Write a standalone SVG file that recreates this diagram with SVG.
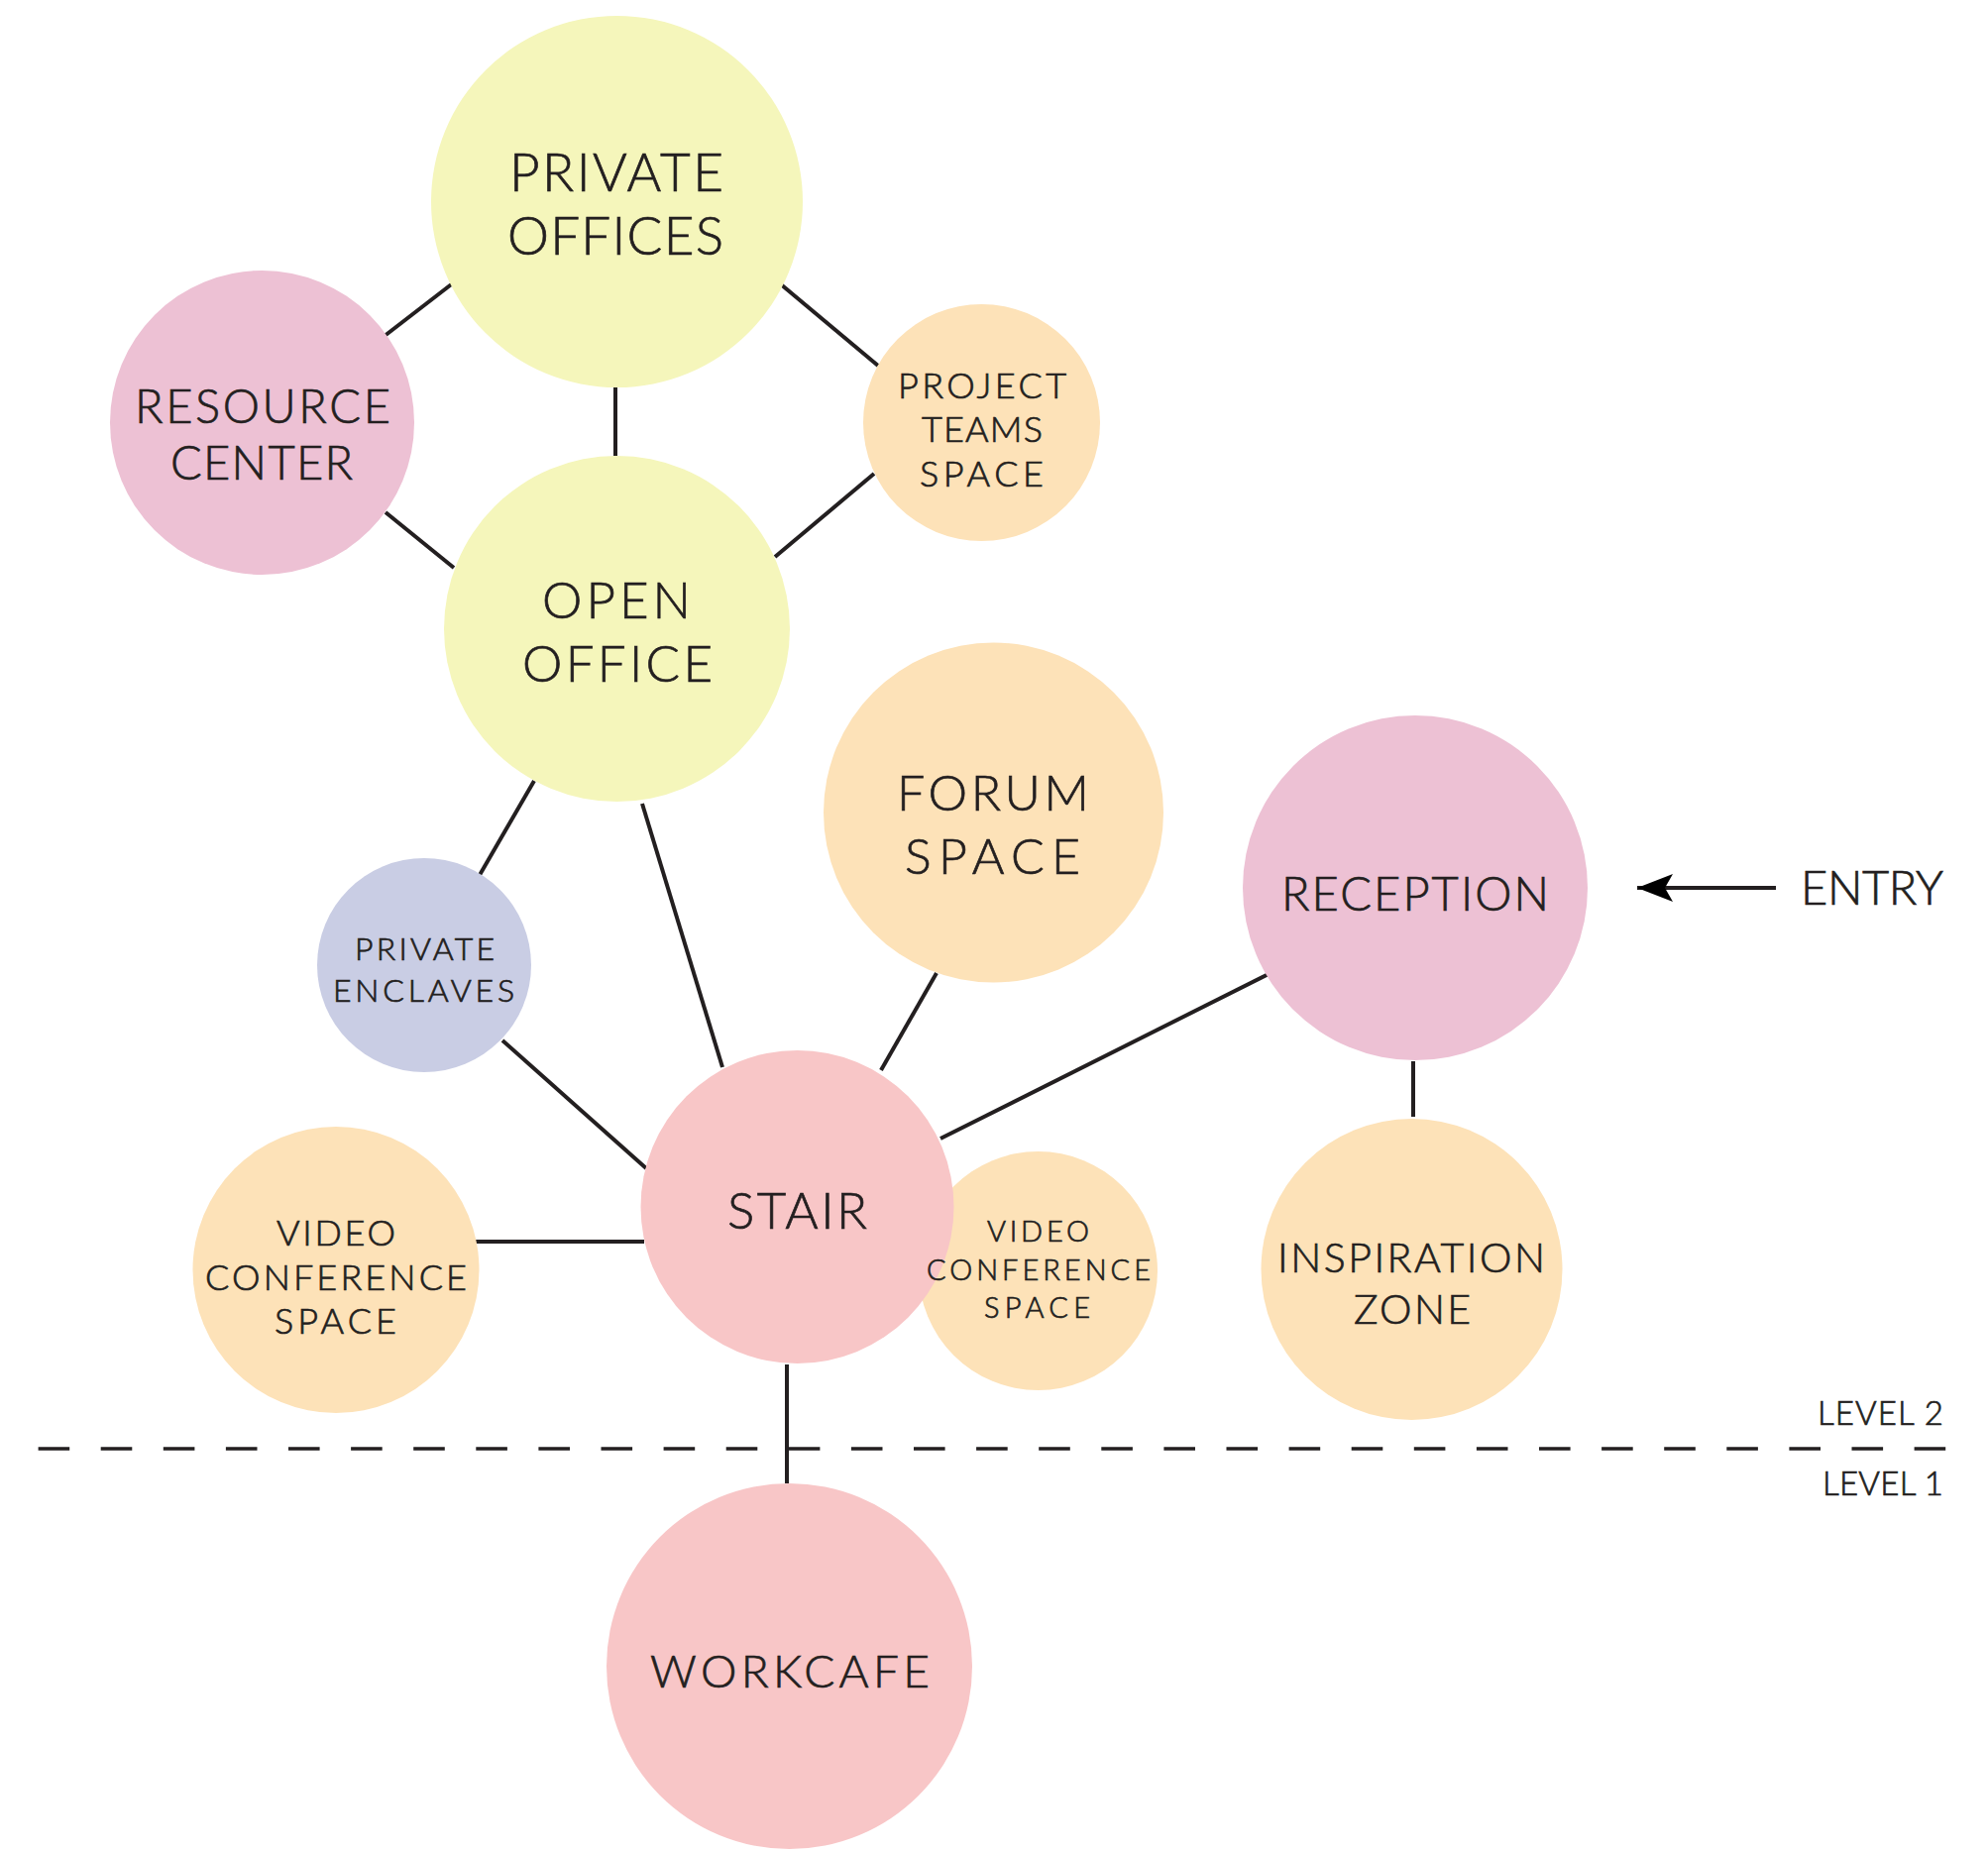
<svg xmlns="http://www.w3.org/2000/svg" width="2006" height="1869" viewBox="0 0 2006 1869">
<style>
.yellow{fill:#F5F6BB}
.pink{fill:#EDC1D4}
.orange{fill:#FDE2B8}
.lav{fill:#C9CDE4}
.salmon{fill:#F8C6C7}
text{font-family:Lato,"Liberation Sans",sans-serif;font-weight:300;fill:#231F20;stroke:#231F20;stroke-width:0.7;text-anchor:middle}
.conn line{stroke:#231F20;stroke-width:4;fill:none}
</style>
<defs>
<marker id="arrow" markerUnits="userSpaceOnUse" markerWidth="40" markerHeight="32" viewBox="-38 -16 40 32" refX="0" refY="0" orient="auto">
<path d="M0,0 L-36,-14 L-28,0 L-36,14 Z" fill="#000"/>
</marker>
</defs>
<rect width="2006" height="1869" fill="#fff"/>

<g id="connectors" class="conn">
<line x1="458" y1="285" x2="388" y2="339"/>
<line x1="788" y1="287" x2="886" y2="369"/>
<line x1="621" y1="391" x2="621" y2="460"/>
<line x1="389" y1="517" x2="458" y2="573"/>
<line x1="882" y1="478" x2="782" y2="562"/>
<line x1="539" y1="788" x2="484" y2="883"/>
<line x1="648" y1="811" x2="729" y2="1077"/>
<line x1="945" y1="982" x2="889" y2="1080"/>
<line x1="1282" y1="982" x2="949" y2="1149"/>
<line x1="507" y1="1050" x2="652" y2="1179"/>
<line x1="478" y1="1253" x2="650" y2="1253"/>
<line x1="794" y1="1377" x2="794" y2="1497"/>
<line x1="1426" y1="1071" x2="1426" y2="1127"/>
<line x1="1792" y1="896" x2="1652" y2="896" marker-end="url(#arrow)"/>
</g>

<g id="level-divider">
<line x1="38.6" y1="1462" x2="1964" y2="1462" stroke="#231F20" stroke-width="3.5" stroke-dasharray="31.6 31.5"/>
<text x="1961" y="1438" font-size="33" style="text-anchor:end" textLength="127" lengthAdjust="spacing">LEVEL 2</text>
<text x="1961" y="1509" font-size="33" style="text-anchor:end" textLength="122" lengthAdjust="spacing">LEVEL 1</text>
</g>

<g id="private-offices">
<circle class="yellow" cx="622.5" cy="203.5" r="187.5"/>
<text x="622" y="193" font-size="53" textLength="216" lengthAdjust="spacing">PRIVATE</text>
<text x="621" y="257" font-size="53" textLength="218" lengthAdjust="spacing">OFFICES</text>
</g>

<g id="resource-center">
<circle class="pink" cx="264.5" cy="426.5" r="153.5"/>
<text x="265" y="427" font-size="47" textLength="258" lengthAdjust="spacing">RESOURCE</text>
<text x="264" y="484" font-size="47" textLength="184" lengthAdjust="spacing">CENTER</text>
</g>

<g id="project-teams-space">
<circle class="orange" cx="990.5" cy="426.5" r="119.5"/>
<text x="991" y="402" font-size="36" textLength="170" lengthAdjust="spacing">PROJECT</text>
<text x="991" y="446" font-size="36" textLength="122" lengthAdjust="spacing">TEAMS</text>
<text x="990.5" y="491" font-size="36" textLength="125" lengthAdjust="spacing">SPACE</text>
</g>

<g id="open-office">
<circle class="yellow" cx="622.5" cy="634.5" r="174.5"/>
<text x="622" y="624" font-size="51" textLength="150" lengthAdjust="spacing">OPEN</text>
<text x="623" y="688" font-size="51" textLength="192" lengthAdjust="spacing">OFFICE</text>
</g>

<g id="forum-space">
<circle class="orange" cx="1002.5" cy="820" r="171.5"/>
<text x="1002" y="818" font-size="50" textLength="194" lengthAdjust="spacing">FORUM</text>
<text x="1001.5" y="882" font-size="50" textLength="177" lengthAdjust="spacing">SPACE</text>
</g>

<g id="reception">
<circle class="pink" cx="1428" cy="896" r="174"/>
<text x="1428" y="919" font-size="47" textLength="270" lengthAdjust="spacing">RECEPTION</text>
</g>

<g id="entry">
<text x="1817" y="913" font-size="47" style="text-anchor:start" textLength="144" lengthAdjust="spacing">ENTRY</text>
</g>

<g id="private-enclaves">
<circle class="lav" cx="428" cy="974" r="108"/>
<text x="428.5" y="969" font-size="32" textLength="141" lengthAdjust="spacing">PRIVATE</text>
<text x="427.5" y="1011" font-size="32" textLength="183" lengthAdjust="spacing">ENCLAVES</text>
</g>

<g id="video-conference-space-right">
<circle class="orange" cx="1047.5" cy="1282.5" r="120.5"/>
</g>

<g id="stair">
<circle class="salmon" cx="804.5" cy="1218" r="158"/>
<text x="804.5" y="1240" font-size="51" textLength="141" lengthAdjust="spacing">STAIR</text>
</g>

<g id="video-conference-space-right-label">
<text x="1047.5" y="1253" font-size="29" textLength="103" lengthAdjust="spacing">VIDEO</text>
<text x="1048" y="1292" font-size="29" textLength="226" lengthAdjust="spacing">CONFERENCE</text>
<text x="1046.5" y="1330" font-size="29" textLength="107" lengthAdjust="spacing">SPACE</text>
</g>

<g id="video-conference-space-left">
<circle class="orange" cx="339" cy="1281.5" r="144.5"/>
<text x="339" y="1257" font-size="36" textLength="120" lengthAdjust="spacing">VIDEO</text>
<text x="339" y="1302" font-size="36" textLength="264" lengthAdjust="spacing">CONFERENCE</text>
<text x="338.5" y="1346" font-size="36" textLength="123" lengthAdjust="spacing">SPACE</text>
</g>

<g id="inspiration-zone">
<circle class="orange" cx="1424.5" cy="1281" r="152"/>
<text x="1424" y="1284" font-size="41" textLength="270" lengthAdjust="spacing">INSPIRATION</text>
<text x="1425" y="1336" font-size="41" textLength="118" lengthAdjust="spacing">ZONE</text>
</g>

<g id="workcafe">
<circle class="salmon" cx="796.5" cy="1681.5" r="184.5"/>
<text x="797" y="1703" font-size="46" textLength="282" lengthAdjust="spacing">WORKCAFE</text>
</g>
</svg>
